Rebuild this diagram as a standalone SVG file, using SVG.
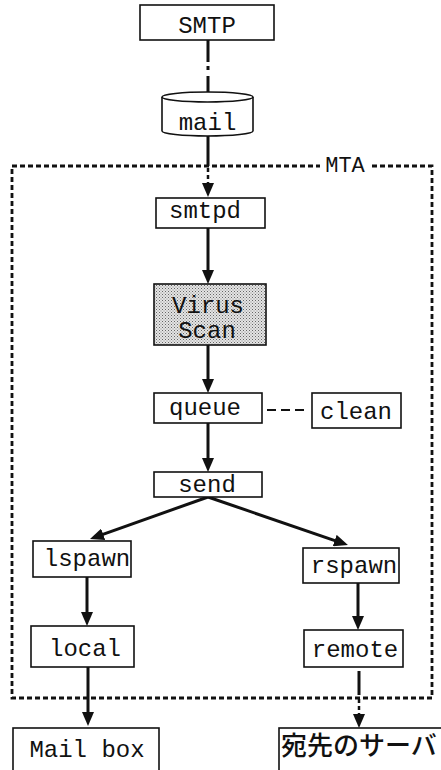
<svg xmlns="http://www.w3.org/2000/svg" width="441" height="770" viewBox="0 0 441 770">
<defs>
<style>
.box{fill:#fff;stroke:#111;stroke-width:1.6}
.lbl{font-family:"Liberation Mono","DejaVu Sans Mono",monospace;font-size:24px;fill:#111;text-anchor:middle}
.jp{font-family:"Noto Sans CJK JP",sans-serif;font-size:26px;fill:#111;font-weight:500}
.arr{stroke:#111;stroke-width:3;fill:none}
.dot{stroke:#111;stroke-width:2.8;fill:none;stroke-dasharray:5 3}
</style>
<marker id="ah" markerUnits="userSpaceOnUse" markerWidth="16" markerHeight="12" refX="4" refY="6" orient="auto">
<path d="M0,0 L14,6 L0,12 Z" fill="#111"/>
</marker>
<pattern id="stip" width="3" height="3" patternUnits="userSpaceOnUse">
<rect width="3" height="3" fill="#e4e4e4"/>
<rect width="1" height="1" fill="#666"/>
<rect x="1.5" y="1.5" width="1" height="1" fill="#888"/>
</pattern>
</defs>
<rect width="441" height="770" fill="#fff"/>

<g id="mta-boundary">
<rect class="dot" x="12" y="166" width="420" height="532"/>
<rect x="320" y="158" width="50" height="14" fill="#fff"/>
<text x="345" y="172" font-family="Liberation Mono, monospace" font-size="22" fill="#111" text-anchor="middle">MTA</text>
</g>

<g id="connectors">
<line x1="208" y1="40" x2="208" y2="92" stroke="#111" stroke-width="3" stroke-dasharray="22 4 4 6"/>
<line x1="208" y1="136" x2="208" y2="166" class="arr"/>
<line x1="208" y1="168" x2="208" y2="187" stroke="#111" stroke-width="2.5" stroke-dasharray="4 3" marker-end="url(#ah)"/>
<line x1="208" y1="228" x2="208" y2="274" class="arr" marker-end="url(#ah)"/>
<line x1="208" y1="345" x2="208" y2="383" class="arr" marker-end="url(#ah)"/>
<line x1="267" y1="410" x2="304" y2="410" stroke="#111" stroke-width="2" stroke-dasharray="9 5"/>
<line x1="208" y1="423" x2="208" y2="462" class="arr" marker-end="url(#ah)"/>
<line x1="208" y1="497" x2="99.4" y2="535.6" class="arr" marker-end="url(#ah)"/>
<line x1="208" y1="497" x2="338.5" y2="541.8" class="arr" marker-end="url(#ah)"/>
<line x1="87" y1="577" x2="87" y2="616" class="arr" marker-end="url(#ah)"/>
<line x1="358" y1="583" x2="358" y2="620" class="arr" marker-end="url(#ah)"/>
<line x1="88" y1="667" x2="88" y2="716" class="arr" marker-end="url(#ah)"/>
<line x1="359" y1="671" x2="359" y2="695" class="arr"/>
<line x1="359" y1="699" x2="359" y2="718" stroke="#111" stroke-width="2.5" stroke-dasharray="4 3" marker-end="url(#ah)"/>
</g>

<g id="smtp">
<rect class="box" x="140" y="5" width="134" height="35"/>
<text class="lbl" x="207" y="33">SMTP</text>
</g>

<g id="mail">
<path class="box" d="M162,97 A45.5,5 0 0 1 253,97 L253,131 A45.5,5 0 0 1 162,131 Z"/>
<path d="M162,97 A45.5,5 0 0 0 253,97" fill="none" stroke="#111" stroke-width="1.6"/>
<text class="lbl" x="207.5" y="130">mail</text>
</g>

<g id="smtpd">
<rect class="box" x="156" y="198" width="109" height="30"/>
<text class="lbl" x="205" y="218">smtpd</text>
</g>

<g id="virus-scan">
<rect x="154" y="284" width="112" height="61" fill="url(#stip)" stroke="#111" stroke-width="1.6"/>
<text class="lbl" x="208" y="313">Virus</text>
<text class="lbl" x="207" y="338">Scan</text>
</g>

<g id="queue">
<rect class="box" x="154" y="393" width="108" height="30"/>
<text class="lbl" x="205" y="415">queue</text>
</g>

<g id="clean">
<rect class="box" x="312" y="393" width="89" height="35"/>
<text class="lbl" x="356" y="419">clean</text>
</g>

<g id="send">
<rect class="box" x="154" y="472" width="108" height="25"/>
<text class="lbl" x="207" y="492">send</text>
</g>

<g id="lspawn">
<rect class="box" x="33" y="541" width="98" height="36"/>
<text class="lbl" x="87" y="566">lspawn</text>
</g>

<g id="rspawn">
<rect class="box" x="303" y="548" width="96" height="35"/>
<text class="lbl" x="354" y="573">rspawn</text>
</g>

<g id="local">
<rect class="box" x="31" y="626" width="103" height="41"/>
<text class="lbl" x="85" y="656">local</text>
</g>

<g id="remote">
<rect class="box" x="304" y="630" width="99" height="37"/>
<text class="lbl" x="355" y="657">remote</text>
</g>

<g id="mailbox">
<rect class="box" x="13" y="728" width="146" height="60"/>
<text class="lbl" x="87" y="757">Mail box</text>
</g>

<g id="dest-server">
<rect class="box" x="279" y="728" width="180" height="60"/>
<text class="jp" x="281" y="755">宛先のサーバ</text>
</g>
</svg>
